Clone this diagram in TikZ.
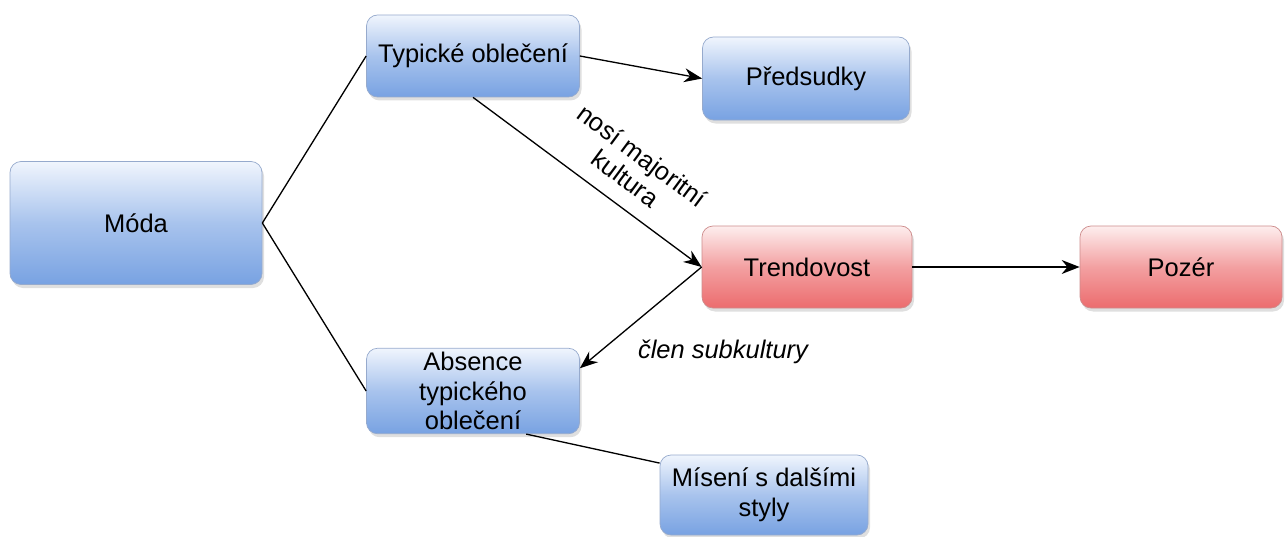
\documentclass[tikz,border=0pt]{standalone}
\usepackage{fontspec}
\setmainfont{Liberation Sans}
\usepackage{tikz}
\usetikzlibrary{calc,arrows.meta,shadows}

\definecolor{bleuhaut}{RGB}{240,245,253}
\definecolor{bleubas}{RGB}{120,162,226}
\definecolor{bleubord}{RGB}{150,170,205}
\definecolor{rougehaut}{RGB}{253,238,238}
\definecolor{rougebas}{RGB}{236,108,110}
\definecolor{rougebord}{RGB}{205,140,140}

\begin{document}
\begin{tikzpicture}[
    font=\fontsize{14.5}{17}\selectfont,
    boite/.style={draw=bleubord, rounded corners=0.22cm, align=center,
        top color=bleuhaut, bottom color=bleubas, middle color=bleubas!60!bleuhaut,
        drop shadow={opacity=0.25, shadow xshift=0.04cm, shadow yshift=-0.07cm},
        inner sep=2pt},
    boiterouge/.style={boite, draw=rougebord,
        top color=rougehaut, bottom color=rougebas, middle color=rougebas!60!rougehaut},
    lien/.style={line width=0.75pt},
    fleche/.style={lien, -{Stealth[length=3.6mm, width=2.8mm]}}]
    \useasboundingbox (0,0) rectangle (25.72,-10.74);

    % Les boites
    \node[boite, minimum width=5.04cm, minimum height=2.46cm] (moda) at (2.72,-4.46) {Móda};
    \node[boite, minimum width=4.26cm, minimum height=1.64cm] (typ) at (9.46,-1.12) {Typické oblečení};
    \node[boite, minimum width=4.14cm, minimum height=1.66cm] (pred) at (16.12,-1.57) {Předsudky};
    \node[boiterouge, minimum width=4.2cm, minimum height=1.64cm] (trend) at (16.14,-5.34) {Trendovost};
    \node[boiterouge, minimum width=4.04cm, minimum height=1.64cm] (pozer) at (23.62,-5.34) {Pozér};
    \node[boite, minimum width=4.26cm, minimum height=1.64cm] (abs) at (9.46,-7.82) {Absence\\typického\\oblečení};
    \node[boite, minimum width=4.16cm, minimum height=1.6cm] (mis) at (15.28,-9.9) {Mísení s dalšími\\styly};

    % Liens
    \draw[lien] (moda.east) -- (typ.west);
    \draw[lien] (moda.east) -- (abs.west);
    \draw[fleche] (typ.east) -- (pred.west);
    \draw[fleche] (typ.south) -- (trend.west)
        node[pos=0.6, sloped, above, yshift=0.2cm, align=center, font=\fontsize{14.5}{16}\selectfont] {nosí majoritní\\kultura};
    \draw[fleche] (trend.west) -- (abs.12);
    \draw[fleche] (trend.east) -- (pozer.west);
    \draw[lien] (abs.-39) -- (mis.163);

    % Etiquette
    \node[font=\fontsize{14.5}{17}\itshape] (membre) at (14.46,-7.04) {člen subkultury};
\end{tikzpicture}
\end{document}
